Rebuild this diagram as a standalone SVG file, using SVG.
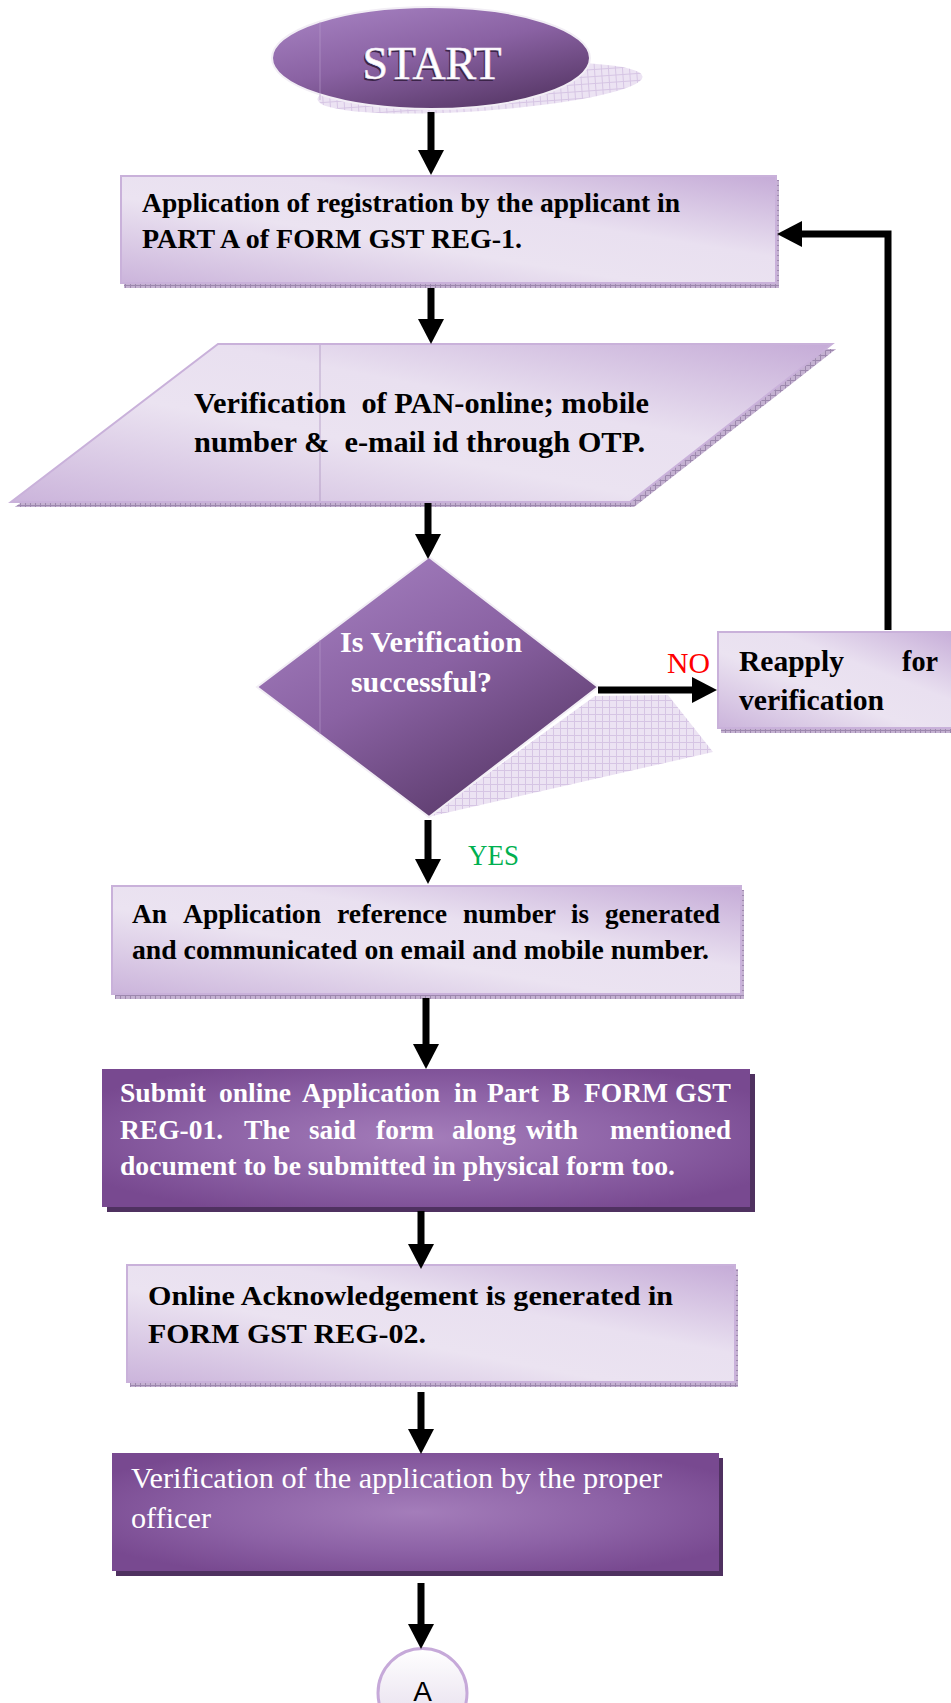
<svg xmlns="http://www.w3.org/2000/svg" width="951" height="1703" viewBox="0 0 951 1703">
<style>
.bt{font-family:"Liberation Serif","Times New Roman",serif;font-weight:bold;font-size:27px;fill:#000}
.big{font-size:30px}
.w{fill:#fff}
.rt{font-family:"Liberation Serif","Times New Roman",serif;font-size:30px}
.conn{fill:none;stroke:#000;stroke-width:7}
.light{fill:url(#lg);stroke:#c9b1da;stroke-width:2}
.dark{fill:url(#dg)}
.dsh{fill:#4f3160}
.sh{fill:url(#hatch2)}
</style>
<defs>
<linearGradient id="lg" x1="0" y1="1" x2="1" y2="0">
<stop offset="0" stop-color="#cbb4db"/>
<stop offset="0.4" stop-color="#ebe3f1"/>
<stop offset="0.62" stop-color="#e9e0f0"/>
<stop offset="1" stop-color="#c5abd7"/>
</linearGradient>
<radialGradient id="dg" cx="0.5" cy="0.5" r="0.6">
<stop offset="0" stop-color="#a47dba"/>
<stop offset="0.55" stop-color="#8d62a6"/>
<stop offset="1" stop-color="#784990"/>
</radialGradient>
<linearGradient id="pg" x1="0.2" y1="0.05" x2="0.8" y2="0.95">
<stop offset="0" stop-color="#a27dbd"/>
<stop offset="0.45" stop-color="#8a62a3"/>
<stop offset="1" stop-color="#583868"/>
</linearGradient>
<linearGradient id="cg" x1="0" y1="0" x2="0" y2="1">
<stop offset="0" stop-color="#ffffff"/>
<stop offset="1" stop-color="#e2d8ea"/>
</linearGradient>
<pattern id="hatch" width="7" height="7" patternUnits="userSpaceOnUse">
<rect width="7" height="7" fill="#ece3f3"/>
<path d="M0 0.5H7M0.5 0V7" stroke="#d6c5e4" stroke-width="1"/>
</pattern>
<pattern id="hatch2" width="5" height="5" patternUnits="userSpaceOnUse">
<rect width="5" height="5" fill="#c4b1d1"/>
<path d="M0 0.5H5M0.5 0V5" stroke="#9d88ae" stroke-width="1"/>
</pattern>
<marker id="ah" markerUnits="userSpaceOnUse" markerWidth="25" markerHeight="26" viewBox="0 0 25 26" refX="0" refY="13" orient="auto">
<path d="M0,0 L25,13 L0,26 z" fill="#000"/>
</marker>
</defs>
<rect width="951" height="1703" fill="#fff"/>

<g id="start">
<ellipse cx="480" cy="88" rx="163" ry="23" fill="url(#hatch)" transform="rotate(-4 480 88)"/>
<ellipse cx="431" cy="58" rx="159" ry="51" fill="url(#pg)" stroke="#f2eef5" stroke-width="2"/>
<line x1="320" y1="22" x2="320" y2="100" stroke="#b89ccb" stroke-width="1" opacity="0.6"/>
<text x="432" y="79" text-anchor="middle" font-family="'Liberation Serif','Times New Roman',serif" font-size="46" fill="#3b2449" textLength="139" lengthAdjust="spacingAndGlyphs" transform="translate(-1.5 1.5)">START</text>
<text x="432" y="79" text-anchor="middle" font-family="'Liberation Serif','Times New Roman',serif" font-size="46" fill="#fff" stroke="#efe8f4" stroke-width="0.6" textLength="139" lengthAdjust="spacingAndGlyphs">START</text>
</g>

<g id="apply">
<rect x="124" y="180" width="655" height="108" class="sh"/>
<rect x="121" y="176" width="655" height="107" class="light"/>
<text class="bt" x="142" y="212" textLength="538" lengthAdjust="spacingAndGlyphs">Application of registration by the applicant in</text>
<text class="bt" x="142" y="248" textLength="380" lengthAdjust="spacingAndGlyphs">PART A of FORM GST REG-1.</text>
</g>

<g id="verify-pan">
<polygon points="222,349 836,349 634,507 15,507" class="sh"/>
<polygon points="218,344 832,344 630,502 11,502" class="light"/>
<line x1="320" y1="345" x2="320" y2="501" stroke="#a88dbb" stroke-width="1" opacity="0.7"/>
<text class="bt big" x="194" y="413" textLength="455" lengthAdjust="spacingAndGlyphs" xml:space="preserve">Verification  of PAN-online; mobile</text>
<text class="bt big" x="194" y="452" textLength="451" lengthAdjust="spacingAndGlyphs" xml:space="preserve">number &amp;  e-mail id through OTP.</text>
</g>

<g id="decision">
<polygon points="595,696 668,695 713,752 428,817" fill="url(#hatch)"/>
<polygon points="429,557 598,687 429,817 257,687" fill="url(#pg)" stroke="#f2eef5" stroke-width="2"/>
<line x1="320" y1="640" x2="320" y2="734" stroke="#b89ccb" stroke-width="1" opacity="0.6"/>
<text class="bt big w" x="340" y="652" textLength="182" lengthAdjust="spacingAndGlyphs">Is Verification</text>
<text class="bt big w" x="351" y="692" textLength="141" lengthAdjust="spacingAndGlyphs">successful?</text>
</g>

<g id="reapply">
<rect x="721" y="636" width="245" height="97" class="sh"/>
<rect x="718" y="632" width="245" height="96" class="light"/>
<text class="bt big" x="739" y="671" textLength="105" lengthAdjust="spacingAndGlyphs">Reapply</text>
<text class="bt big" x="902" y="671" textLength="36" lengthAdjust="spacingAndGlyphs">for</text>
<text class="bt big" x="739" y="710" textLength="145" lengthAdjust="spacingAndGlyphs">verification</text>
</g>

<g id="arn">
<rect x="115" y="890" width="629" height="109" class="sh"/>
<rect x="112" y="886" width="629" height="108" class="light"/>
<text class="bt" x="132" y="923" textLength="35" lengthAdjust="spacingAndGlyphs">An</text>
<text class="bt" x="183" y="923" textLength="138" lengthAdjust="spacingAndGlyphs">Application</text>
<text class="bt" x="337" y="923" textLength="110" lengthAdjust="spacingAndGlyphs">reference</text>
<text class="bt" x="463" y="923" textLength="93" lengthAdjust="spacingAndGlyphs">number</text>
<text class="bt" x="571" y="923" textLength="18" lengthAdjust="spacingAndGlyphs">is</text>
<text class="bt" x="605" y="923" textLength="115" lengthAdjust="spacingAndGlyphs">generated</text>
<text class="bt" x="132" y="959" textLength="577" lengthAdjust="spacingAndGlyphs">and communicated on email and mobile number.</text>
</g>

<g id="partb">
<rect x="107" y="1074" width="648" height="138" class="dsh"/>
<rect x="102" y="1069" width="648" height="138" class="dark"/>
<text class="bt w" x="120" y="1102" textLength="86" lengthAdjust="spacingAndGlyphs">Submit</text>
<text class="bt w" x="219" y="1102" textLength="72" lengthAdjust="spacingAndGlyphs">online</text>
<text class="bt w" x="302" y="1102" textLength="138" lengthAdjust="spacingAndGlyphs">Application</text>
<text class="bt w" x="454" y="1102" textLength="23" lengthAdjust="spacingAndGlyphs">in</text>
<text class="bt w" x="487" y="1102" textLength="52" lengthAdjust="spacingAndGlyphs">Part</text>
<text class="bt w" x="552" y="1102" textLength="18" lengthAdjust="spacingAndGlyphs">B</text>
<text class="bt w" x="584" y="1102" textLength="84" lengthAdjust="spacingAndGlyphs">FORM</text>
<text class="bt w" x="675" y="1102" textLength="56" lengthAdjust="spacingAndGlyphs">GST</text>
<text class="bt w" x="120" y="1139" textLength="103" lengthAdjust="spacingAndGlyphs">REG-01.</text>
<text class="bt w" x="244" y="1139" textLength="46" lengthAdjust="spacingAndGlyphs">The</text>
<text class="bt w" x="309" y="1139" textLength="47" lengthAdjust="spacingAndGlyphs">said</text>
<text class="bt w" x="376" y="1139" textLength="58" lengthAdjust="spacingAndGlyphs">form</text>
<text class="bt w" x="452" y="1139" textLength="64" lengthAdjust="spacingAndGlyphs">along</text>
<text class="bt w" x="526" y="1139" textLength="52" lengthAdjust="spacingAndGlyphs">with</text>
<text class="bt w" x="610" y="1139" textLength="121" lengthAdjust="spacingAndGlyphs">mentioned</text>
<text class="bt w" x="120" y="1175" textLength="555" lengthAdjust="spacingAndGlyphs">document to be submitted in physical form too.</text>
</g>

<g id="ack">
<rect x="130" y="1269" width="608" height="118" class="sh"/>
<rect x="127" y="1265" width="608" height="117" class="light"/>
<text class="bt" x="148" y="1305" textLength="525" lengthAdjust="spacingAndGlyphs">Online Acknowledgement is generated in</text>
<text class="bt" x="148" y="1343" textLength="278" lengthAdjust="spacingAndGlyphs">FORM GST REG-02.</text>
</g>

<g id="officer">
<rect x="116" y="1458" width="607" height="118" class="dsh"/>
<rect x="112" y="1453" width="607" height="118" class="dark"/>
<text class="rt w" x="131" y="1488" textLength="531" lengthAdjust="spacingAndGlyphs">Verification of the application by the proper</text>
<text class="rt w" x="131" y="1528" textLength="80" lengthAdjust="spacingAndGlyphs">officer</text>
</g>

<g id="connector-a">
<circle cx="422.5" cy="1693" r="44.5" fill="url(#cg)" stroke="#c6a9d9" stroke-width="3"/>
<text x="422.5" y="1701" text-anchor="middle" font-family="'Liberation Sans',Arial,sans-serif" font-size="28" fill="#000">A</text>
</g>

<g id="connectors">
<path class="conn" d="M431,112 V150" marker-end="url(#ah)"/>
<path class="conn" d="M431,288 V319" marker-end="url(#ah)"/>
<path class="conn" d="M428,503 V534" marker-end="url(#ah)"/>
<path class="conn" d="M598,690 H692" stroke-width="8" marker-end="url(#ah)"/>
<path class="conn" d="M888,630 V234 H802" marker-end="url(#ah)"/>
<path class="conn" d="M428,820 V859" marker-end="url(#ah)"/>
<path class="conn" d="M426,998 V1044" marker-end="url(#ah)"/>
<path class="conn" d="M421,1211 V1244" marker-end="url(#ah)"/>
<path class="conn" d="M421,1392 V1429" marker-end="url(#ah)"/>
<path class="conn" d="M421,1583 V1624" marker-end="url(#ah)"/>
<text class="rt" x="667" y="673" fill="#ff0000" textLength="43" lengthAdjust="spacingAndGlyphs">NO</text>
<text class="rt" x="468" y="865" fill="#00b050" textLength="51" lengthAdjust="spacingAndGlyphs">YES</text>
</g>
</svg>
